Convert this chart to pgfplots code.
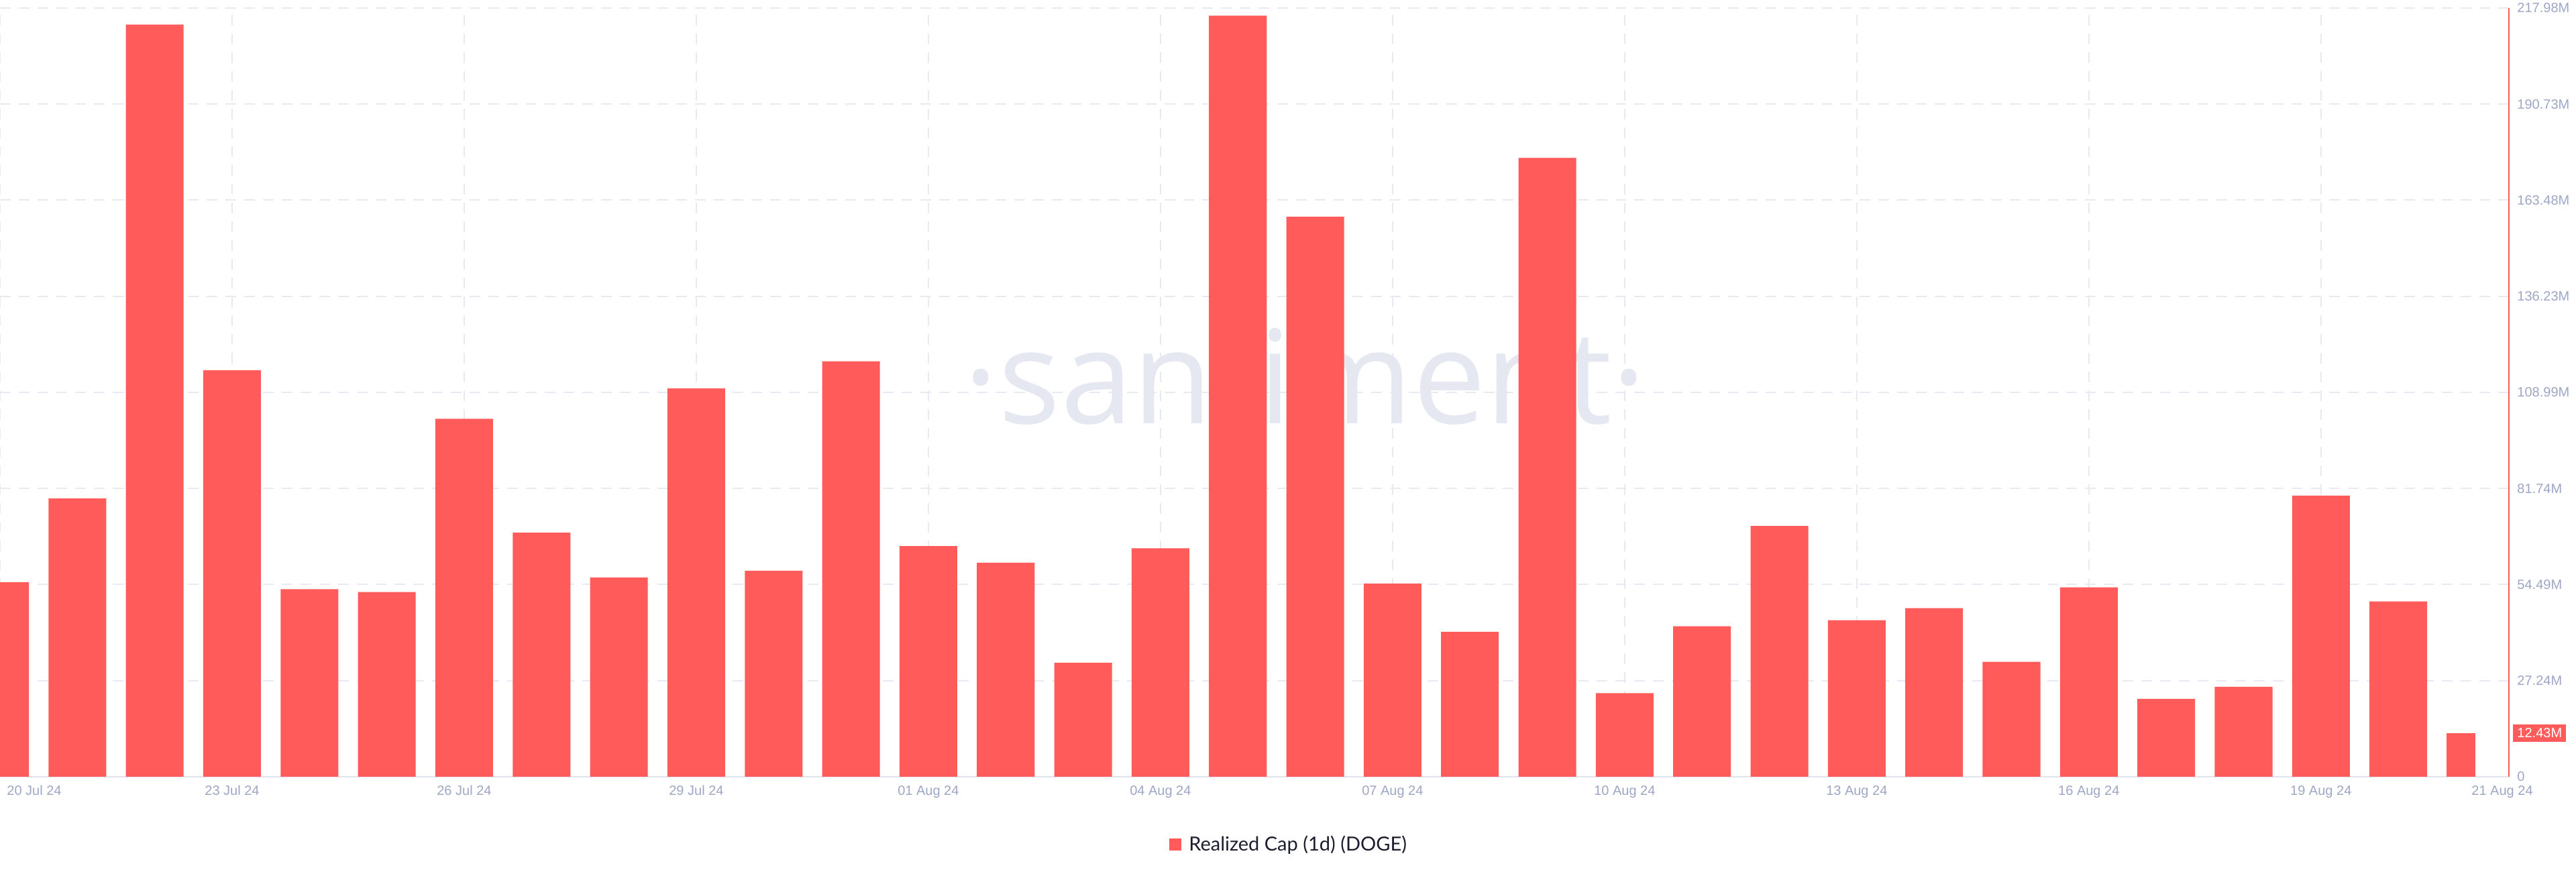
\documentclass[border=0pt]{standalone}
\usepackage{fontspec}
\setmainfont{Liberation Sans}
\newfontfamily\latofont{Lato}
\newfontfamily\wmfont{Open Sans}
\usepackage{pgfplots}
\pgfplotsset{compat=1.18}

\definecolor{barred}{HTML}{FF5B5B}
\definecolor{tickc}{HTML}{9DA6C4}
\definecolor{gridc}{HTML}{E8EAF3}
\definecolor{basec}{HTML}{E1E4EE}
\definecolor{legtext}{HTML}{1C1E2E}
\definecolor{wm}{HTML}{E6E8F1}

\begin{document}
\begin{tikzpicture}
\useasboundingbox (0,-71pt) rectangle (1920pt,579pt);
\begin{axis}[
    scale only axis,
    width=1870pt, height=573pt,
    xmin=0, xmax=32.43,
    ymin=0, ymax=217.98,
    clip mode=individual,
    axis x line*=bottom,
    axis y line*=right,
    x axis line style={draw=basec, line width=1.2pt, -},
    y axis line style={draw=barred, line width=1.4pt, -},
    major tick length=0pt,
    grid=major,
    major grid style={draw=gridc, line width=1pt, dash pattern=on 8pt off 6pt},
    xtick={3,6,...,30},
    xticklabels={23 Jul 24, 26 Jul 24, 29 Jul 24, 01 Aug 24, 04 Aug 24,
                 07 Aug 24, 10 Aug 24, 13 Aug 24, 16 Aug 24, 19 Aug 24},
    extra x ticks={0},
    extra x tick labels={20 Jul 24},
    extra x tick style={grid=major, xticklabel style={anchor=north west, xshift=5pt}},
    xticklabel style={anchor=north, inner sep=0pt, yshift=-6.4pt},
    ytick={0,27.2475,54.495,81.7425,108.99,136.2375,163.485,190.7325,217.98},
    yticklabels={0, 27.24M, 54.49M, 81.74M, 108.99M, 136.23M, 163.48M, 190.73M, 217.98M},
    yticklabel style={anchor=west, inner sep=0pt, xshift=6pt},
    tick label style={font=\fontsize{10}{12}\selectfont, text=tickc},
    legend style={at={(0.5134,-0.088)}, anchor=center, draw=none, fill=none,
                  font=\latofont\fontsize{14.5}{17}\selectfont, text=legtext,
                  nodes={inner sep=0pt}, /tikz/column sep=5.5pt},
]

% watermark, under the bars
\node[font=\wmfont\fontsize{97}{97}\selectfont, text=wm, anchor=base]
    at (axis cs:16.87,100.2) {·santiment·};

\addplot[ybar, bar width=0.746, bar shift=0, fill=barred, draw=none,
    legend image code/.code={\fill[barred] (0pt,-4.5pt) rectangle (9pt,4.5pt);}]
coordinates {
    (0,55.2) (1,78.9) (2,213.3) (3,115.3) (4,53.2) (5,52.4) (6,101.5) (7,69.2)
    (8,56.5) (9,110.1) (10,58.4) (11,117.8) (12,65.4) (13,60.7) (14,32.3)
    (15,64.8) (16,215.8) (17,158.8) (18,54.8) (19,41.1) (20,175.5) (21,23.7)
    (22,42.7) (23,71.1) (24,44.4) (25,47.8) (26,32.6) (27,53.7) (28,22.1)
    (29,25.5) (30,79.7) (31,49.7)
};
\addlegendentry{Realized Cap (1d) (DOGE)}

% current day, only half a bar so far
\addplot[ybar, bar width=0.373, bar shift=-0.1865, fill=barred, draw=none, forget plot]
coordinates {(32,12.43)};

\node[anchor=west, xshift=3pt, fill=barred, text=white, inner xsep=3pt, inner ysep=0pt,
      minimum height=13pt, font=\fontsize{10}{12}\selectfont]
    at (axis cs:32.43,12.43) {12.43M};
\node[anchor=north, inner sep=0pt, yshift=-6.4pt, xshift=-5pt, text=tickc,
      font=\fontsize{10}{12}\selectfont]
    at (axis cs:32.43,0) {21 Aug 24};
\end{axis}
\end{tikzpicture}
\end{document}
